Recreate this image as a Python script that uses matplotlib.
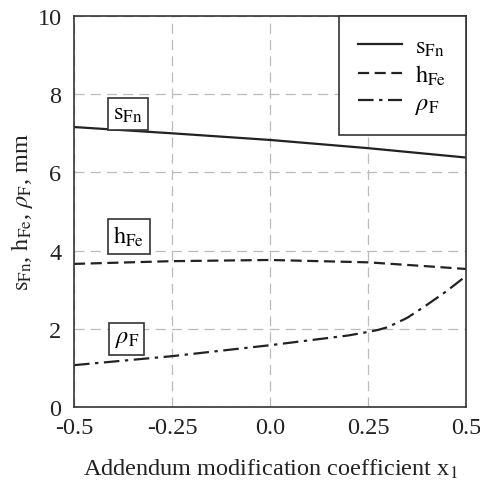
import matplotlib
matplotlib.use('Agg')
import matplotlib.pyplot as plt

plt.rcParams['font.family'] = ['Liberation Serif', 'DejaVu Serif']
plt.rcParams['mathtext.fontset'] = 'stix'

x_s = [-0.5, -0.25, 0.0, 0.25, 0.5]
s_fn = [7.16, 7.0, 6.83, 6.62, 6.38]

x_h = [-0.5, -0.25, 0.0, 0.25, 0.4, 0.5]
h_fe = [3.66, 3.73, 3.76, 3.70, 3.6, 3.53]

x_r = [-0.5, -0.25, 0.0, 0.2, 0.25, 0.275, 0.3, 0.35, 0.4, 0.45, 0.5]
rho_f = [1.07, 1.3, 1.58, 1.83, 1.92, 1.97, 2.04, 2.28, 2.61, 2.96, 3.35]

xticks = [-0.5, -0.25, 0.0, 0.25, 0.5]
xticklabels = ['-0.5', '-0.25', '0.0', '0.25', '0.5']
yticks = [0, 2, 4, 6, 8, 10]

fig = plt.figure(figsize=(4.81, 4.81), dpi=100)
ax = fig.add_axes([74/481, 1 - 408/481, 392/481, 391/481])

ax.plot(x_s, s_fn, color='#222222', lw=1.6, ls='-', label=r'$\mathrm{s_{Fn}}$')
ax.plot(x_h, h_fe, color='#222222', lw=1.6, ls=(0, (5, 2.5)), label=r'$\mathrm{h_{Fe}}$')
ax.plot(x_r, rho_f, color='#222222', lw=1.6, ls=(0, (7, 2.5, 1.5, 2.5)), label=r'$\rho_\mathrm{F}$')

ax.set_xlim(-0.5, 0.5)
ax.set_ylim(0, 10)
ax.set_xticks(xticks)
ax.set_xticklabels(xticklabels)
ax.set_yticks(yticks)
ax.tick_params(length=0, labelsize=17.5, colors='#222222')
ax.tick_params(axis='y', pad=9)
ax.tick_params(axis='x', pad=7)
ax.grid(True, color='#bbbbbb', ls=(0, (8, 5)), lw=0.9)
for sp in ax.spines.values():
    sp.set_color('#333333')
    sp.set_linewidth(1.2)

ax.set_xlabel(r'Addendum modification coefficient x$_1$', fontsize=17.5, labelpad=14, color='#222222')
ax.set_ylabel(r'$\mathrm{s_{Fn}}$, $\mathrm{h_{Fe}}$, $\rho_\mathrm{F}$, mm', fontsize=17.5, color='#222222', labelpad=2)

box = dict(boxstyle='square,pad=0.22', fc='white', ec='#333333', lw=1.2)
ax.text(-0.362, 7.5, r'$\mathrm{s_{Fn}}$', fontsize=17.5, ha='center', va='center', bbox=box)
ax.text(-0.36, 4.37, r'$\mathrm{h_{Fe}}$', fontsize=17.5, ha='center', va='center', bbox=box)
ax.text(-0.365, 1.74, r'$\rho_\mathrm{F}$', fontsize=17.5, ha='center', va='center', bbox=box)

leg = ax.legend(loc='upper right', fontsize=17.5, fancybox=False, framealpha=1,
                edgecolor='#333333', borderaxespad=0, handlelength=1.8,
                handletextpad=0.55, borderpad=0.8, labelspacing=0.2)
leg.get_frame().set_linewidth(1.2)

fig.savefig('out.png', dpi=100)
